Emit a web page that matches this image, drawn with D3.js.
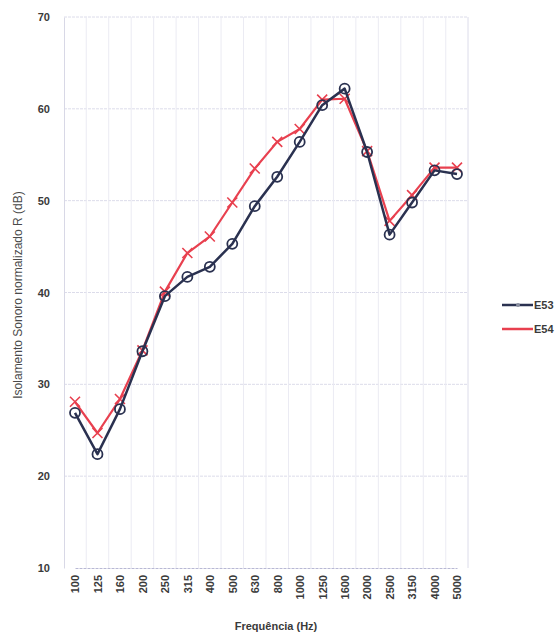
<!DOCTYPE html>
<html>
<head>
<meta charset="utf-8">
<script src="https://cdn.jsdelivr.net/npm/d3@7"></script>
<style>
  body { margin: 0; background: #fff; }
  text { font-family: "Liberation Sans", Arial, sans-serif; }
</style>
</head>
<body>
<div id="chart"></div>
<script>
const frequencias = ["100","125","160","200","250","315","400","500","630","800","1000","1250","1600","2000","2500","3150","4000","5000"];
const e53 = [26.9, 22.4, 27.3, 33.6, 39.6, 41.7, 42.8, 45.3, 49.4, 52.6, 56.4, 60.4, 62.2, 55.3, 46.3, 49.8, 53.3, 52.9];
const e54 = [28.1, 24.7, 28.4, 33.7, 40.1, 44.3, 46.1, 49.8, 53.5, 56.4, 57.8, 61.0, 61.1, 55.4, 47.8, 50.6, 53.6, 53.6];
const yTicks = [10, 20, 30, 40, 50, 60, 70];

const W = 558, H = 636;
const m = { left: 64, right: 90, top: 17, bottom: 68 };

const svg = d3.select("#chart").append("svg").attr("width", W).attr("height", H);

const x = d3.scalePoint().domain(frequencias).range([m.left + 11, W - m.right - 11]);
const y = d3.scaleLinear().domain([10, 70]).range([H - m.bottom, m.top]);
const passo = x.step();

// grelha
const grelha = svg.append("g");
grelha.selectAll("line.h").data(yTicks.slice(1)).join("line")
    .attr("x1", m.left).attr("x2", W - m.right)
    .attr("y1", d => y(d)).attr("y2", d => y(d))
    .attr("stroke", "#dcdcea").attr("stroke-width", 1).attr("stroke-dasharray", "3,1");
grelha.selectAll("line.v").data(frequencias.slice(0, -1)).join("line")
    .attr("x1", d => x(d) + passo / 2).attr("x2", d => x(d) + passo / 2)
    .attr("y1", m.top).attr("y2", H - m.bottom)
    .attr("stroke", "#ebebf3").attr("stroke-width", 1);
grelha.append("line")
    .attr("x1", W - m.right).attr("x2", W - m.right).attr("y1", m.top).attr("y2", H - m.bottom)
    .attr("stroke", "#dcdcea");

// eixos
const eixoY = svg.append("g").attr("transform", `translate(${m.left},0)`)
    .call(d3.axisLeft(y).tickValues(yTicks).tickSize(0).tickPadding(14));
eixoY.select(".domain").attr("stroke", "#d8d8e6");
eixoY.selectAll("text").attr("font-size", 11).attr("font-weight", "bold").attr("fill", "#3a3a3a");

const eixoX = svg.append("g").attr("transform", `translate(0,${H - m.bottom})`)
    .call(d3.axisBottom(x).tickSize(0));
eixoX.select(".domain").attr("stroke", "#b8b8d4").attr("stroke-dasharray", "3,1");
eixoX.selectAll("text")
    .attr("font-size", 11).attr("font-weight", "bold").attr("fill", "#3a3a3a")
    .attr("transform", "rotate(-90)")
    .attr("text-anchor", "end").attr("x", -7).attr("y", 0).attr("dy", "0.35em");

// títulos
svg.append("text")
    .attr("transform", "translate(22,295) rotate(-90)")
    .attr("text-anchor", "middle").attr("font-size", 12).attr("fill", "#4a4a4a")
    .text("Isolamento Sonoro normalizado R (dB)");
svg.append("text")
    .attr("x", (m.left + W - m.right) / 2 + 10).attr("y", H - 6)
    .attr("text-anchor", "middle").attr("font-size", 11).attr("font-weight", "bold").attr("fill", "#3a3a3a")
    .text("Frequência (Hz)");

// séries
const linha = vals => d3.line().x((d, i) => x(frequencias[i])).y(d => y(d))(vals);

svg.append("path").attr("d", linha(e54))
    .attr("fill", "none").attr("stroke", "#e8404f").attr("stroke-width", 2.2).attr("stroke-linejoin", "round");
svg.append("g").selectAll("path").data(e54).join("path")
    .attr("transform", (d, i) => `translate(${x(frequencias[i])},${y(d)})`)
    .attr("d", "M-5,-5L5,5M-5,5L5,-5")
    .attr("stroke", "#e8404f").attr("stroke-width", 1.6);

svg.append("path").attr("d", linha(e53))
    .attr("fill", "none").attr("stroke", "#2a3150").attr("stroke-width", 2.5).attr("stroke-linejoin", "round");
svg.append("g").selectAll("circle").data(e53).join("circle")
    .attr("cx", (d, i) => x(frequencias[i])).attr("cy", d => y(d)).attr("r", 5)
    .attr("fill", "none").attr("stroke", "#2a3150").attr("stroke-width", 1.8);

// legenda
const legenda = [
    { nome: "E53", cor: "#2a3150", y: 305 },
    { nome: "E54", cor: "#e8404f", y: 329 }
];
const lg = svg.append("g").selectAll("g").data(legenda).join("g")
    .attr("transform", d => `translate(502,${d.y})`);
lg.append("line").attr("x1", 0).attr("x2", 31)
    .attr("stroke", d => d.cor).attr("stroke-width", 2.5);
lg.filter(d => d.nome === "E53").append("circle").attr("cx", 16).attr("r", 2)
    .attr("fill", "#8a8fa0");
lg.append("text").attr("x", 32).attr("dy", "0.35em")
    .attr("font-size", 11).attr("font-weight", "bold").attr("fill", "#3a3a3a")
    .text(d => d.nome);
</script>
</body>
</html>
